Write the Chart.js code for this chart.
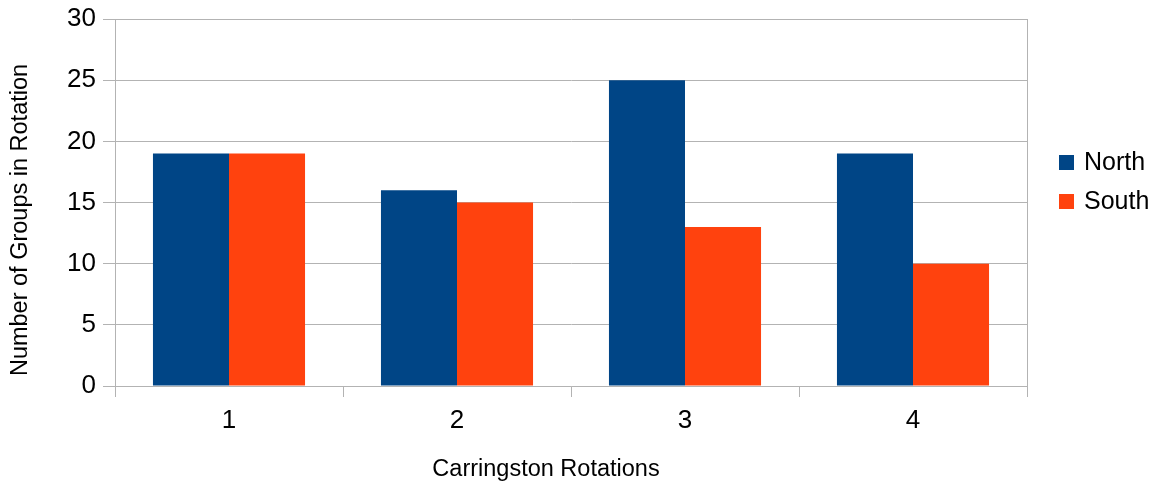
<!DOCTYPE html>
<html>
<head>
<meta charset="utf-8">
<title>Groups per Carrington Rotation</title>
<script src="https://cdn.jsdelivr.net/npm/chart.js@4/dist/chart.umd.min.js"></script>
<style>
  html, body { margin: 0; padding: 0; background: #fff; }
  #wrap { width: 1159px; height: 489px; }
</style>
</head>
<body>
<div id="wrap"><canvas id="myChart" width="1159" height="489"></canvas></div>
<script>
// data
const rotations = ['1', '2', '3', '4'];
const northGroups = [19, 16, 25, 19];
const southGroups = [19, 15, 13, 10];
const xTitle = 'Carringston Rotations';
const yTitle = 'Number of Groups in Rotation';

const FONT = '"Liberation Sans", Arial, sans-serif';
const GRID = '#b3b3b3';

// legend and axis titles, placed the way the original (office) chart has them
const sideBits = {
  id: 'sideBits',
  afterDraw(chart) {
    const ctx = chart.ctx;
    const area = chart.chartArea;
    const x = area.right + 32;
    ctx.save();
    ctx.font = '25px ' + FONT;
    ctx.textBaseline = 'middle';
    chart.data.datasets.forEach((ds, i) => {
      const y = 162 + i * 39;
      ctx.fillStyle = ds.backgroundColor;
      ctx.fillRect(x, y - 7, 15, 15);
      ctx.fillStyle = '#000';
      ctx.fillText(ds.label, x + 25, y + 1);
    });

    ctx.font = '23.5px ' + FONT;
    ctx.textAlign = 'center';
    ctx.fillText(xTitle, 546, 470);

    ctx.translate(21, 220);
    ctx.rotate(-Math.PI / 2);
    ctx.fillText(yTitle, 0, 0);
    ctx.restore();
  }
};

const ctx = document.getElementById('myChart');
new Chart(ctx, {
  type: 'bar',
  data: {
    labels: rotations,
    datasets: [
      {
        label: 'North',
        data: northGroups,
        backgroundColor: '#004586',
        categoryPercentage: 0.667,
        barPercentage: 1
      },
      {
        label: 'South',
        data: southGroups,
        backgroundColor: '#ff420e',
        categoryPercentage: 0.667,
        barPercentage: 1
      }
    ]
  },
  options: {
    responsive: false,
    animation: false,
    devicePixelRatio: 1,
    layout: { padding: { top: 19, right: 132, bottom: 0, left: 0 } },
    scales: {
      x: {
        grid: {
          offset: true,
          // only the right edge reaches across the plot, the rest are tick marks
          color: c => c.type === 'scale' ? GRID : 'rgba(0,0,0,0)',
          tickColor: GRID,
          tickLength: 11,
          lineWidth: 1
        },
        border: { color: GRID },
        ticks: { color: '#000', font: { family: FONT, size: 26 }, padding: 8 },
        afterFit: s => { s.height = 103; s.paddingLeft = 0; s.paddingRight = 0; }
      },
      y: {
        min: 0,
        max: 30,
        grid: { color: GRID, tickLength: 12, lineWidth: 1 },
        border: { color: GRID },
        ticks: { stepSize: 5, color: '#000', font: { family: FONT, size: 26 }, padding: 7 },
        afterFit: s => { s.width = 115; s.paddingTop = 0; s.paddingBottom = 0; }
      }
    },
    plugins: {
      legend: { display: false },
      tooltip: { enabled: false }
    }
  },
  plugins: [sideBits]
});
</script>
</body>
</html>
